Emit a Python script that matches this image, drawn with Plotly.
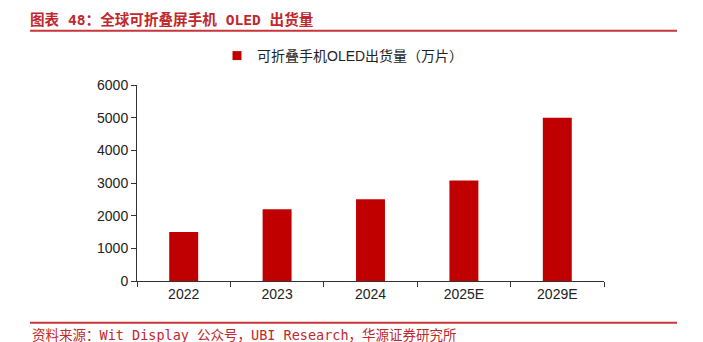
import plotly.graph_objects as go

categories = ["2022", "2023", "2024", "2025E", "2029E"]
shipments = [1500, 2200, 2500, 3080, 5000]
series_name = "可折叠手机OLED出货量（万片）"
y_ticks = [0, 1000, 2000, 3000, 4000, 5000, 6000]
title_text = "图表 48：全球可折叠屏手机 OLED 出货量"
source_text = "资料来源：Wit Display 公众号，UBI Research，华源证券研究所"

RED = "#c00000"
LINE_RED = "#c8343a"

fig = go.Figure()
fig.add_trace(go.Bar(
    x=categories, y=shipments, marker=dict(color=RED, line=dict(width=0)),
    showlegend=False, name=series_name,
))
fig.add_trace(go.Scatter(
    x=[None], y=[None], mode="markers", name=series_name,
    marker=dict(symbol="square", size=9, color=RED), showlegend=True,
))

fig.update_layout(
    width=703, height=342,
    margin=dict(l=137, r=99, t=85, b=61),
    paper_bgcolor="white", plot_bgcolor="white",
    bargap=0.69,
    font=dict(family="Liberation Sans, Arial, sans-serif", size=14, color="#222"),
    title=dict(
        text=title_text, x=30/703, xanchor="left", xref="container",
        y=1-20/342, yanchor="middle", yref="container",
        font=dict(family="DejaVu Sans Mono, Noto Sans CJK SC", size=14.6, color="#c0282d", weight="bold"),
    ),
    legend=dict(
        orientation="h", x=(217-137)/467, xanchor="left", y=1+29/196, yanchor="middle",
        font=dict(family="Liberation Sans, Noto Sans CJK SC", size=14, color="#222"),
        bgcolor="rgba(0,0,0,0)",
    ),
    xaxis=dict(
        showline=True, linecolor="#333", linewidth=1,
        ticks="outside", ticklen=5, tickcolor="#333", tickson="boundaries",
        showgrid=False, zeroline=False,
        tickfont=dict(family="Liberation Sans, Arial", size=14, color="#222"),
    ),
    yaxis=dict(
        range=[0, 6000], tickvals=y_ticks, showline=True, linecolor="#333", linewidth=1,
        ticks="outside", ticklen=5, tickcolor="#333", showgrid=False, zeroline=False,
        tickfont=dict(family="Liberation Sans, Arial", size=14, color="#222"),
    ),
    shapes=[
        dict(type="line", xref="paper", yref="paper", x0=(30-137)/467, x1=(677-137)/467,
             y0=1+54.3/196, y1=1+54.3/196, line=dict(color=LINE_RED, width=2)),
        dict(type="line", xref="paper", yref="paper", x0=(30-137)/467, x1=(677-137)/467,
             y0=1-237.7/196, y1=1-237.7/196, line=dict(color=LINE_RED, width=2)),
    ],
    annotations=[
        dict(text=source_text, xref="paper", yref="paper", x=(30-137)/467, xanchor="left",
             y=1-250/196, yanchor="middle", showarrow=False,
             font=dict(family="DejaVu Sans Mono, Noto Sans CJK SC", size=13.5, color="#c0282d")),
    ],
)

fig.write_html("out.html")
